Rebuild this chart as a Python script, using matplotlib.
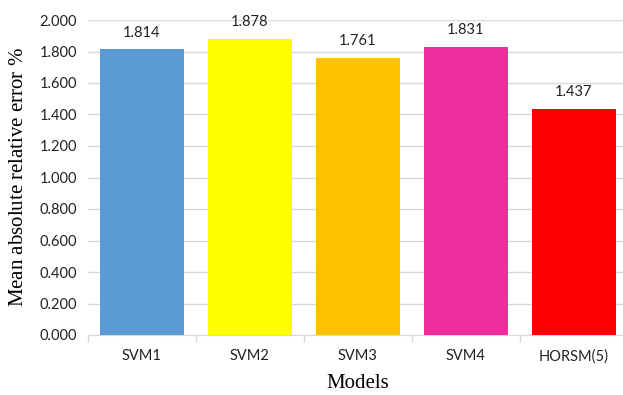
import matplotlib.pyplot as plt
import numpy as np

models = ['SVM1', 'SVM2', 'SVM3', 'SVM4', 'HORSM(5)']
mare = [1.814, 1.878, 1.761, 1.831, 1.437]
colors = ['#5B9BD5', '#FFFF00', '#FFC000', '#EE2E9C', '#FF0000']

plt.rcParams['mathtext.fontset'] = 'custom'
plt.rcParams['mathtext.it'] = 'Liberation Serif:italic'
plt.rcParams['mathtext.rm'] = 'Liberation Serif'

W, H = 623, 395
fig = plt.figure(figsize=(W / 100, H / 100), dpi=100)
ax = fig.add_axes([88 / W, 60 / H, 540 / W, 315 / H])

x = np.arange(len(models))
ax.bar(x, mare, width=0.77, color=colors, zorder=3)
for xi, v in zip(x, mare):
    ax.annotate(f'{v:.3f}', (xi, v), xytext=(0, 7), textcoords='offset points',
                ha='center', va='bottom', fontsize=10.5, family='Lato', color='#222222')

ax.set_xlim(-0.5, len(models) - 0.5)
ax.set_ylim(0, 2.0)
ax.set_yticks(np.arange(0, 2.01, 0.2))
ax.set_yticklabels([f'{t:.3f}' for t in np.arange(0, 2.01, 0.2)], family='Lato', fontsize=10.5)
ax.yaxis.grid(True, color='#D9D9D9', linewidth=1, zorder=0)
ax.tick_params(axis='y', length=0, pad=8, colors='#222222')

# category labels centred, tick marks between categories
ax.set_xticks(x)
ax.set_xticklabels(models, family='Lato', fontsize=10.5, color='#222222')
ax.tick_params(axis='x', length=0, pad=10)
ax.set_xticks(np.arange(-0.5, len(models)), minor=True)
ax.tick_params(axis='x', which='minor', length=5, color='#D9D9D9', width=1)

for s in ['top', 'right', 'left']:
    ax.spines[s].set_visible(False)
ax.spines['bottom'].set_color('#D9D9D9')

ax.set_xlabel('Models', family='Liberation Serif', fontsize=15, labelpad=8)
ax.set_ylabel(r'Mean absolute relative error $\mathit{\%}$', family='Liberation Serif',
              fontsize=15, labelpad=8)

fig.savefig('out.png', dpi=100)
